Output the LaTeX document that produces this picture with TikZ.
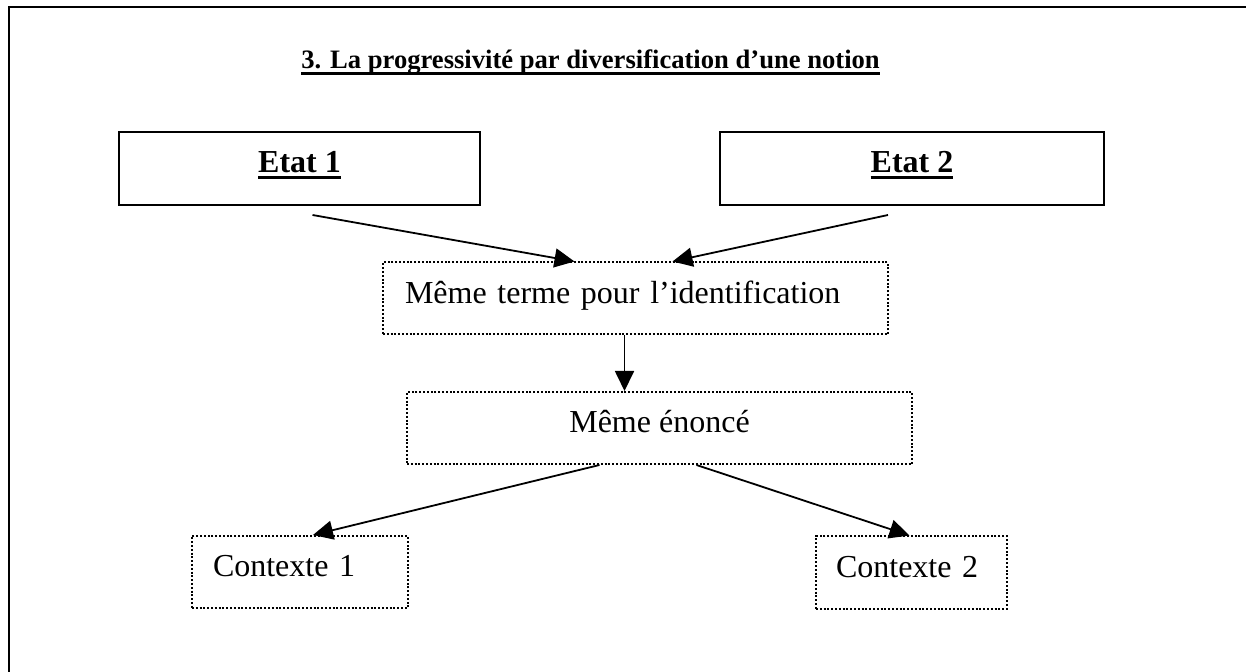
\documentclass[tikz,border=0pt]{standalone}
\usepackage{fontspec}
\setmainfont{Liberation Serif}
\usetikzlibrary{arrows.meta}
\newcommand\souligne[2][1.3pt]{\setbox0\hbox{#2}\rlap{\rule[-2.8pt]{\wd0}{#1}}\box0}

\begin{document}
\begin{tikzpicture}[x=0.5pt, y=-0.5pt,
  plain/.style={draw, line width=1pt, inner sep=0pt,
    minimum height=36.5pt, text height=11pt, text depth=6.5pt,
    font=\fontsize{16}{19}\selectfont\bfseries},
  dotbox/.style={draw, line width=1pt, dash pattern=on 1pt off 0.9pt,
    inner ysep=0pt, minimum height=36pt, text height=11pt, text depth=6pt,
    font=\fontsize{16}{19}\selectfont},
  link/.style={line width=0.9pt, -{Triangle[length=10pt,width=9.5pt]}}]
\useasboundingbox (0,0) rectangle (1246,672);
\draw [line width=1pt] (9,672) |- (1246,7);
\node [anchor=base west, inner sep=0pt, font=\fontsize{13.3}{16}\selectfont\bfseries] (title) at (301,69)
  {\souligne[1.1pt]{3. La progressivité par diversification d’une notion}};

\node [plain, minimum width=180.5pt] (etat1) at (299.5,168.5) {\souligne{Etat 1}};
\node [plain, minimum width=192pt] (etat2) at (912,168.5) {\souligne{Etat 2}};

\node [dotbox, text width=230.5pt, inner xsep=11pt, align=left] (terme) at (635.5,298.5)
  {Même terme pour l’identification};
\node [dotbox, minimum width=252.5pt] (enonce) at (659.5,428) {Même énoncé};
\node [dotbox, text width=87pt, inner xsep=10.5pt, align=left] (ctx1) at (300,572) {Contexte 1};
\node [dotbox, text width=75.5pt, inner xsep=10pt, align=left] (ctx2) at (911.5,572.5) {Contexte 2};

\draw [link] ([shift={(13,9)}]etat1.south) -- ([shift={(-61,0)}]terme.north);
\draw [link] ([shift={(-24,9)}]etat2.south) -- ([shift={(37,0)}]terme.north);
\draw [link] ([shift={(-11,0)}]terme.south) -- ([shift={(-35,0)}]enonce.north);
\draw [link] ([shift={(-60,0)}]enonce.south) -- ([shift={(13,0)}]ctx1.north);
\draw [link] ([shift={(37,0)}]enonce.south) -- ([shift={(-2,0)}]ctx2.north);
\end{tikzpicture}
\end{document}
